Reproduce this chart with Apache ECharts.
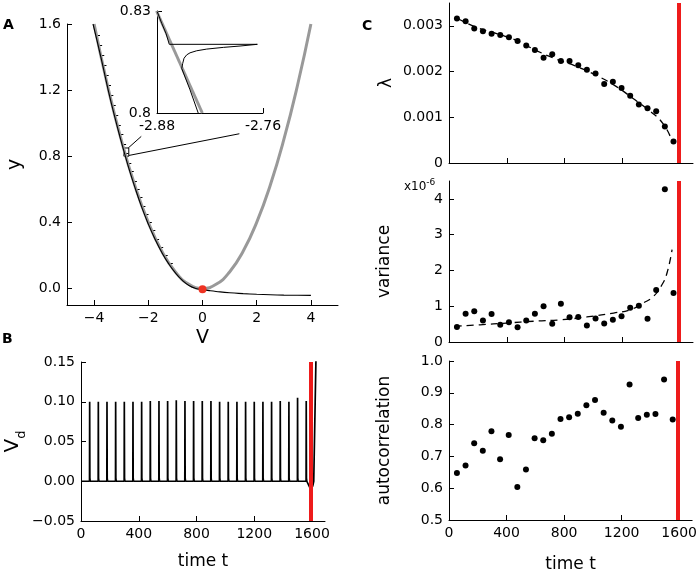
<!DOCTYPE html>
<html>
<head>
<meta charset="utf-8">
<script src="https://cdn.jsdelivr.net/npm/echarts@6/dist/echarts.min.js"></script>
<style>html,body{margin:0;padding:0;background:#fff}#main{width:700px;height:574px}</style>
</head>
<body>
<div id="main"></div>
<script>
var FONT = 'DejaVu Sans';
var RED = '#ee1b1b';

// panel A: nullcline (gray) and trajectory (black)
var nullcline = [[-4,1.6],[-3.5,1.225],[-3,0.9],[-2.5,0.625],[-2,0.4],[-1.5,0.225],[-1,0.1],[-0.5,0.025],[0,0],
  [0.5,0.025],[1,0.1],[1.5,0.225],[2,0.4],[2.5,0.625],[3,0.9],[3.5,1.225],[4,1.6]];
var trajectory = [[-4.04,1.6],[-3.75,1.4],[-3.5,1.215],[-3.25,1.045],[-3.0,0.89],[-2.75,0.745],[-2.5,0.615],
  [-2.25,0.495],[-2.0,0.39],[-1.75,0.298],[-1.5,0.218],[-1.25,0.15],[-1.0,0.094],[-0.75,0.05],[-0.5,0.018],
  [-0.25,0.0],[0,-0.007],[0.25,-0.013],[0.5,-0.018],[1.0,-0.026],[1.5,-0.031],[2.0,-0.035],[2.5,-0.038],
  [3.0,-0.04],[3.5,-0.041],[4.0,-0.042]];
// spike excursions along the left branch
var spikeMarks = [[-3.912,1.53],[-3.834,1.47],[-3.755,1.41],[-3.674,1.35],[-3.592,1.29],[-3.507,1.23],
  [-3.421,1.17],[-3.332,1.11],[-3.240,1.05],[-3.146,0.99],[-3.050,0.93],[-2.950,0.87],[-2.864,0.82],
  [-2.757,0.76],[-2.665,0.71],[-2.550,0.65],[-2.449,0.60],[-2.345,0.55],[-2.236,0.50],[-2.121,0.45],
  [-2.0,0.40],[-1.871,0.35],[-1.732,0.30],[-1.581,0.25],[-1.414,0.20],[-1.225,0.15]];
var fixedPoint = [0, -0.005];
var zoomBox = [[-2.9,0.80],[-2.72,0.80],[-2.72,0.85],[-2.9,0.85],[-2.9,0.80]];
var zoomLines = [[[-2.74,0.85],[-2.26,0.92]], [[-2.71,0.805],[1.36,0.936]]];

// inset
var insetNull = [[-2.8805,0.83],[-2.8287,0.8]];
var insetTraj = [[-2.8797,0.8298],[-2.8747,0.8264],[-2.8698,0.8234],[-2.8661,0.8202],[-2.7664,0.8202],
  [-2.7664,0.8199],[-2.786,0.8197],[-2.8049,0.8193],[-2.8237,0.8188],[-2.8351,0.8183],[-2.8426,0.8177],
  [-2.8464,0.8171],[-2.8494,0.8161],[-2.8509,0.8146],[-2.852,0.8131],[-2.8426,0.8068],[-2.8332,0.7999]];

// panel B: voltage trace
var spikeTimes = [60,120,180,240,300,360,420,480,540,600,660,720,780,840,900,960,1020,1080,1140,1200,
  1260,1320,1380,1440,1500,1560];
var spikePeaks = [0.100,0.100,0.100,0.100,0.100,0.100,0.100,0.101,0.101,0.101,0.102,0.101,0.101,0.101,
  0.101,0.100,0.100,0.100,0.100,0.100,0.100,0.100,0.101,0.100,0.105,0.101];
var traceTail = [[1575,0.001],[1590,-0.01],[1605,-0.006],[1612,0.0],[1622,0.1],[1632,0.2]];
var redTime = 1590;

// panel C: indicators
var cTimes = [55,115,175,235,295,355,415,475,535,595,655,715,775,835,895,955,1015,1075,1135,1195,
  1255,1315,1375,1435,1495,1555];
var lambdaVals = [0.00316,0.00310,0.00294,0.00288,0.00283,0.00280,0.00275,0.00267,0.00257,0.00247,
  0.00230,0.00238,0.00223,0.00223,0.00214,0.00204,0.00196,0.00173,0.00178,0.00164,0.00147,0.00128,
  0.00120,0.00113,0.00080,0.00047];
var lambdaFit = [[60,0.00316],[190,0.00297],[330,0.00283],[470,0.00268],[605,0.00246],[745,0.00227],
  [885,0.00211],[1025,0.00191],[1160,0.00167],[1275,0.00141],[1390,0.00114],[1485,0.00085],[1545,0.00048]];
var varianceVals = [0.42,0.79,0.86,0.60,0.78,0.48,0.55,0.41,0.60,0.79,1.00,0.51,1.07,0.69,0.70,0.46,
  0.66,0.52,0.62,0.72,0.96,1.01,0.65,1.45,4.27,1.37];
var varianceFit = [[40,0.44],[215,0.48],[400,0.53],[585,0.58],[770,0.62],[955,0.70],[1140,0.81],
  [1255,0.90],[1345,1.09],[1415,1.27],[1475,1.6],[1510,1.93],[1545,2.58]];
var autocorrVals = [0.648,0.671,0.741,0.718,0.779,0.691,0.767,0.604,0.659,0.757,0.751,0.771,0.818,
  0.823,0.834,0.861,0.877,0.837,0.813,0.793,0.926,0.821,0.831,0.833,0.942,0.816];
var timeTicks = [0,400,800,1200,1600];

function pair(xs, ys) { return xs.map(function (x, i) { return [x, ys[i]]; }); }
function minus(s) { return String(s).replace('-', '\u2212'); }

var vdData = [[0,0]];
spikeTimes.forEach(function (t, i) {
  vdData.push([t-1,0],[t,spikePeaks[i]],[t+1.5,0.004],[t+4,0]);
});
vdData = vdData.concat(traceTail);

function axis(o) {
  return {
    type: 'value', gridIndex: o.grid, min: o.min, max: o.max, interval: o.interval,
    name: o.name || '', nameLocation: 'middle', nameGap: o.nameGap || 0, nameRotate: o.nameRotate,
    nameTextStyle: Object.assign({color:'#000', fontFamily:FONT, fontSize:17}, o.nameStyle || {}),
    axisLine: {show:true, onZero:false, lineStyle:{color:'#000', width:1}},
    axisTick: {show:true, inside:true, length:5, lineStyle:{color:'#000', width:1}, customValues:o.ticks},
    axisLabel: {show: o.labels !== false, color:'#000', fontFamily:FONT, fontSize:14, margin:6,
      customValues:o.ticks, formatter:o.fmt, showMinLabel:true, showMaxLabel:true},
    splitLine: {show:false}
  };
}

var chart = echarts.init(document.getElementById('main'));

var redMark = {symbol:'none', silent:true, label:{show:false}, animation:false,
  lineStyle:{color:RED, width:4, type:'solid', opacity:1}, data:[{xAxis:redTime}]};
var dotStyle = {color:'#000', opacity:1};
var dashStyle = {color:'#000', width:1.3, type:[7,5]};
var plain = function (v) { return String(v); };

var option = {
  animation: false,
  backgroundColor: '#fff',
  textStyle: {fontFamily: FONT},
  grid: [
    {left:67, top:24, width:271, height:281},
    {left:157, top:11, width:106, height:102},
    {left:81, top:362, width:244, height:159},
    {left:449, top:3, width:244, height:160},
    {left:449, top:181, width:244, height:161},
    {left:449, top:361, width:244, height:161}
  ],
  xAxis: [
    axis({grid:0, min:-5, max:5, ticks:[-4,-2,0,2,4], fmt:minus, name:'V', nameGap:24, nameStyle:{fontSize:19}}),
    axis({grid:1, min:-2.88, max:-2.76, ticks:[-2.88,-2.76], fmt:function (v) { return v.toFixed(2); }}),
    axis({grid:2, min:0, max:1690, ticks:timeTicks, fmt:plain, name:'time t', nameGap:32}),
    axis({grid:3, min:0, max:1690, ticks:timeTicks, labels:false}),
    axis({grid:4, min:0, max:1690, ticks:timeTicks, labels:false}),
    axis({grid:5, min:0, max:1690, ticks:timeTicks, fmt:plain, name:'time t', nameGap:36})
  ],
  yAxis: [
    axis({grid:0, min:-0.1, max:1.6, ticks:[0,0.4,0.8,1.2,1.6], fmt:function (v) { return v.toFixed(1); },
      name:'y', nameRotate:90, nameGap:42, nameStyle:{fontSize:19}}),
    axis({grid:1, min:0.8, max:0.83, ticks:[0.8,0.83], fmt:function (v) { return v < 0.81 ? '0.8' : '0.83'; }}),
    axis({grid:2, min:-0.05, max:0.15, interval:0.05, fmt:function (v) { return minus(v.toFixed(2)); },
      name:'{v|V}{d|d}', nameRotate:90, nameGap:52,
      nameStyle:{rich:{v:{fontSize:20, fontFamily:FONT, color:'#000', verticalAlign:'bottom', padding:[0,0,5,0]},
        d:{fontSize:13, fontFamily:FONT, color:'#000', verticalAlign:'bottom'}}}}),
    axis({grid:3, min:0, max:0.0035, ticks:[0,0.001,0.002,0.003],
      fmt:function (v) { return v === 0 ? '0' : v.toFixed(3); }, name:'\u03bb', nameRotate:90, nameGap:54}),
    axis({grid:4, min:0, max:4.5, ticks:[0,1,2,3,4], fmt:plain,
      name:'variance', nameRotate:90, nameGap:56}),
    axis({grid:5, min:0.5, max:1.0, interval:0.1, fmt:function (v) { return v.toFixed(1); },
      name:'autocorrelation', nameRotate:90, nameGap:56})
  ],
  series: [
    {type:'line', xAxisIndex:0, yAxisIndex:0, data:nullcline, smooth:true, symbol:'none',
      lineStyle:{color:'#999', width:3}},
    {type:'line', xAxisIndex:0, yAxisIndex:0, data:trajectory, smooth:true, symbol:'none',
      lineStyle:{color:'#000', width:1.1}},
    {type:'lines', coordinateSystem:'cartesian2d', xAxisIndex:0, yAxisIndex:0, silent:true,
      data:spikeMarks.map(function (p) { return {coords:[[p[0], p[1]], [p[0]+0.13, p[1]]]}; }),
      lineStyle:{color:'#000', width:1, opacity:1}},
    {type:'lines', coordinateSystem:'cartesian2d', xAxisIndex:0, yAxisIndex:0, silent:true, polyline:true,
      data:[{coords:zoomBox}].concat(zoomLines.map(function (c) { return {coords:c}; })),
      lineStyle:{color:'#000', width:1, opacity:1}},
    {type:'scatter', xAxisIndex:0, yAxisIndex:0, data:[fixedPoint], symbolSize:8,
      itemStyle:{color:'#ee3322', opacity:1}, z:5},
    {type:'line', xAxisIndex:1, yAxisIndex:1, data:insetNull, symbol:'none', lineStyle:{color:'#999', width:3}},
    {type:'line', xAxisIndex:1, yAxisIndex:1, data:insetTraj, symbol:'none', lineStyle:{color:'#000', width:1}},
    {type:'line', xAxisIndex:2, yAxisIndex:2, data:vdData, symbol:'none', lineStyle:{color:'#000', width:1.7}},
    {type:'line', xAxisIndex:2, yAxisIndex:2, data:[], symbol:'none', markLine:redMark},
    {type:'line', xAxisIndex:3, yAxisIndex:3, data:lambdaFit, smooth:true, symbol:'none', lineStyle:dashStyle},
    {type:'scatter', xAxisIndex:3, yAxisIndex:3, data:pair(cTimes, lambdaVals), symbolSize:6, itemStyle:dotStyle,
      markLine:redMark},
    {type:'line', xAxisIndex:4, yAxisIndex:4, data:varianceFit, smooth:true, symbol:'none', lineStyle:dashStyle},
    {type:'scatter', xAxisIndex:4, yAxisIndex:4, data:pair(cTimes, varianceVals), symbolSize:6, itemStyle:dotStyle,
      markLine:redMark},
    {type:'scatter', xAxisIndex:5, yAxisIndex:5, data:pair(cTimes, autocorrVals), symbolSize:6, itemStyle:dotStyle,
      markLine:redMark}
  ],
  graphic: [
    {type:'text', x:3, y:18, style:{text:'A', font:'bold 14px "DejaVu Sans"', fill:'#000'}},
    {type:'text', x:2, y:332, style:{text:'B', font:'bold 14px "DejaVu Sans"', fill:'#000'}},
    {type:'text', x:362, y:19, style:{text:'C', font:'bold 14px "DejaVu Sans"', fill:'#000'}},
    {type:'text', x:404, y:178, style:{text:'{a|x10}{b|-6}', fill:'#000',
      rich:{a:{fontSize:12, fontFamily:FONT, verticalAlign:'bottom'},
        b:{fontSize:9, fontFamily:FONT, verticalAlign:'bottom', padding:[0,0,6,0]}}}}
  ]
};

chart.setOption(option);
</script>
</body>
</html>
